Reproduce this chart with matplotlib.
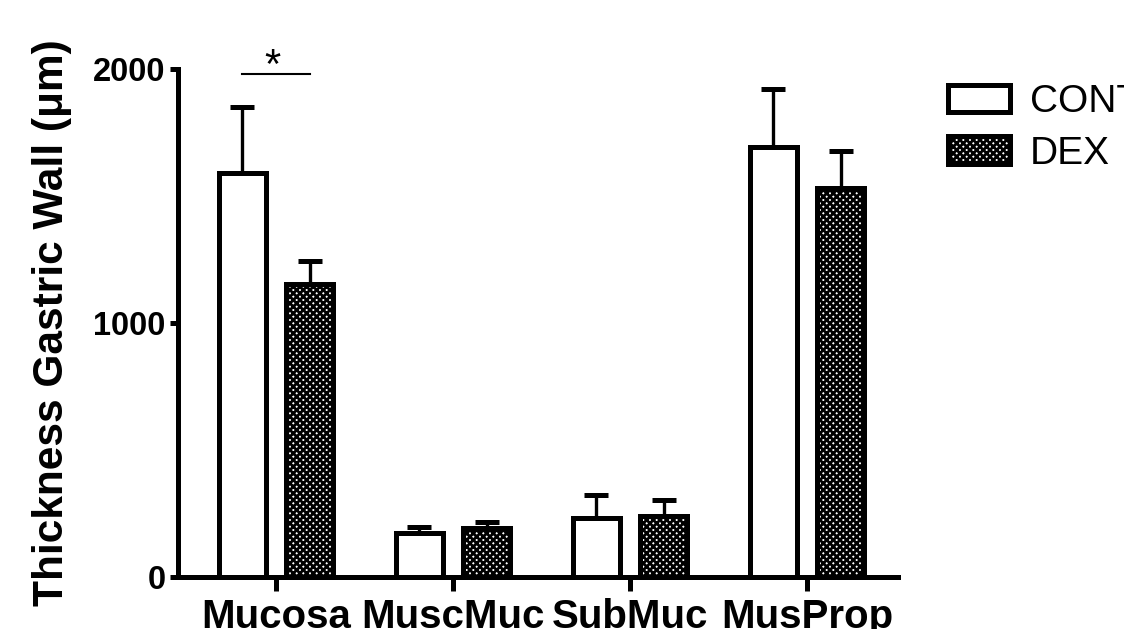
import matplotlib
matplotlib.use("Agg")
import matplotlib.pyplot as plt
import numpy as np

categories = ["Mucosa", "MuscMuc", "SubMuc", "MusProp"]
cont_mean = [1590, 173, 232, 1693]
cont_err = [260, 24, 91, 228]
dex_mean = [1153, 193, 240, 1531]
dex_err = [91, 23, 63, 146]
series_labels = ["CONT", "DEX"]
yticks = [0, 1000, 2000]

plt.rcParams['font.family'] = ['Liberation Sans', 'DejaVu Sans']
plt.rcParams['hatch.linewidth'] = 2.0
plt.rcParams['hatch.color'] = 'black'

fig = plt.figure(figsize=(11.24, 6.29), dpi=100)
ax = fig.add_axes([178/1124, 52/629, 720/1124, 508/629])

x = np.arange(len(categories))
w = 0.265
off = 0.19
lw = 3.6

ax.bar(x - off, cont_mean, w, facecolor='white', edgecolor='black', linewidth=lw,
       label=series_labels[0], zorder=3)
ax.bar(x + off, dex_mean, w, facecolor='white', edgecolor='black', linewidth=lw,
       hatch='xxxxx', label=series_labels[1], zorder=3)

zeros = [0]*len(categories)
ax.errorbar(x - off, cont_mean, yerr=[zeros, cont_err], fmt='none', ecolor='black',
            elinewidth=2.4, capsize=8.6, capthick=3.6, zorder=2)
ax.errorbar(x + off, dex_mean, yerr=[zeros, dex_err], fmt='none', ecolor='black',
            elinewidth=2.4, capsize=8.6, capthick=3.6, zorder=2)

# significance marker
ax.plot([0 - off, 0 + off], [1980, 1980], color='black', lw=1.5, clip_on=False)
ax.text(-0.02, 1928, "*", ha='center', va='bottom', fontsize=30, clip_on=False)

ax.set_xlim(-0.554, 3.514)
ax.set_ylim(0, 2000)
ax.set_xticks(x)
ax.set_xticklabels(categories, fontsize=29, fontweight='bold')
ax.set_yticks(yticks)
ax.set_yticklabels([str(t) for t in yticks], fontsize=23.5, fontweight='bold')
ax.tick_params(axis='y', length=6, width=lw, pad=3)
ax.tick_params(axis='x', length=10, width=lw, pad=5)

for s in ['top', 'right']:
    ax.spines[s].set_visible(False)
for s in ['left', 'bottom']:
    ax.spines[s].set_linewidth(lw)

ax.set_ylabel("Thickness Gastric Wall (\u03bcm)", fontsize=30.5, fontweight='bold')
ax.yaxis.set_label_coords(-0.147, 0.5)

ax.legend(loc='upper left', bbox_to_anchor=(948/1124, 1 - 84/629),
          bbox_transform=fig.transFigure, frameon=False, fontsize=28,
          handlelength=1.6, handleheight=0.7, handletextpad=0.5,
          labelspacing=0.4, borderpad=0, borderaxespad=0)

fig.savefig("out.png", dpi=100)
